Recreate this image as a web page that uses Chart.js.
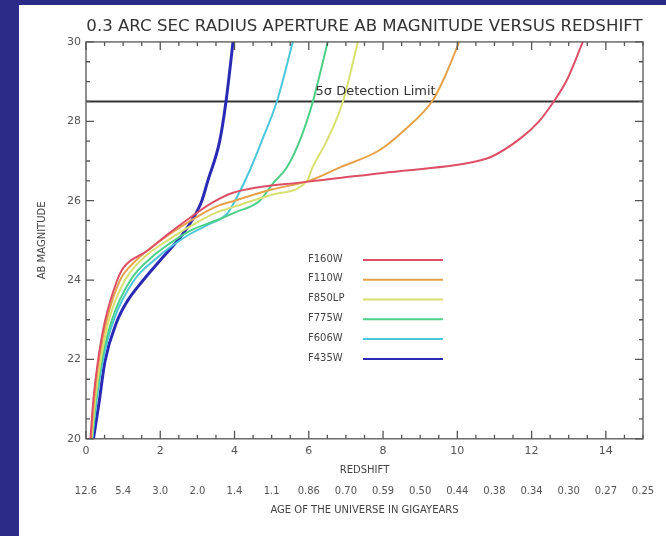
<!DOCTYPE html>
<html>
<head>
<meta charset="utf-8">
<script src="https://cdn.jsdelivr.net/npm/chart.js@4.4.1/dist/chart.umd.min.js"></script>
<style>
html, body { margin: 0; padding: 0; background: #2c2c88; }
#myChart { display: block; }
</style>
</head>
<body>
<canvas id="myChart" width="666" height="536"></canvas>
<script>
// --- Data (redshift z, AB magnitude) ---
const ageLabels = ['12.6', '5.4', '3.0', '2.0', '1.4', '1.1', '0.86', '0.70', '0.59', '0.50', '0.44', '0.38', '0.34', '0.30', '0.27', '0.25'];
const detectionLimit = 28.5;

const f160wZ   = [0.12, 0.2, 0.32, 0.51, 0.83, 1.0, 1.64, 2.2, 2.8, 3.4, 3.96, 6.0, 8.0, 10.4, 10.9, 11.7, 12.2, 12.62, 12.95, 13.38];
const f160wMag = [20, 21, 21.95, 22.96, 23.97, 24.3, 24.73, 25.15, 25.57, 25.95, 26.2, 26.48, 26.7, 26.97, 27.1, 27.57, 28.0, 28.53, 29.04, 30];

const f110wZ   = [0.13, 0.22, 0.35, 0.56, 0.92, 1.3, 1.8, 2.4, 3.0, 3.5, 4.0, 5.0, 6.0, 6.84, 7.9, 8.6, 9.34, 9.7, 10.05];
const f110wMag = [20, 21, 22, 23, 24, 24.45, 24.85, 25.25, 25.6, 25.85, 26.0, 26.28, 26.5, 26.84, 27.27, 27.8, 28.53, 29.2, 30];

const f850lpZ   = [0.15, 0.25, 0.4, 0.62, 1.05, 1.6, 2.2, 2.8, 3.5, 4.0, 5.0, 5.95, 6.1, 6.49, 6.92, 7.32];
const f850lpMag = [20, 21, 22, 23, 24, 24.6, 25.0, 25.35, 25.7, 25.85, 26.15, 26.5, 26.84, 27.52, 28.5, 30];

const f775wZ   = [0.16, 0.27, 0.43, 0.7, 1.2, 1.8, 2.3, 2.8, 3.5, 4.0, 4.68, 5.03, 5.41, 5.76, 6.11, 6.51];
const f775wMag = [20, 21, 22, 23, 24, 24.6, 24.95, 25.24, 25.5, 25.7, 26.0, 26.43, 26.84, 27.52, 28.5, 30];

const f606wZ   = [0.17, 0.29, 0.46, 0.75, 1.3, 1.9, 2.3, 2.8, 3.3, 3.8, 4.06, 4.41, 4.74, 5.14, 5.57];
const f606wMag = [20, 21, 22, 23, 24, 24.55, 24.85, 25.16, 25.4, 25.67, 26.08, 26.76, 27.52, 28.5, 30];

const f435wZ   = [0.2, 0.35, 0.51, 0.83, 1.1, 1.5, 2.0, 2.6, 2.85, 3.12, 3.28, 3.6, 3.77, 3.96];
const f435wMag = [20, 20.9, 21.95, 22.95, 23.45, 23.95, 24.5, 25.15, 25.5, 26.0, 26.5, 27.5, 28.5, 30];

function toPoints(zs, mags) {
  return zs.map((z, i) => ({ x: z, y: mags[i] }));
}

function serie(label, zs, mags, color, width) {
  return {
    label: label,
    data: toPoints(zs, mags),
    borderColor: color,
    borderWidth: width,
    pointRadius: 0,
    fill: false,
    cubicInterpolationMode: 'monotone'
  };
}

const FONT = 'DejaVu Sans';

// blue slide border behind the white panel
const fondPlugin = {
  id: 'fond',
  beforeDraw(chart) {
    const ctx = chart.ctx;
    ctx.save();
    ctx.fillStyle = '#2c2c88';
    ctx.fillRect(0, 0, chart.width, chart.height);
    ctx.fillStyle = '#ffffff';
    ctx.fillRect(19, 5, chart.width - 19, chart.height - 5);
    ctx.restore();
  }
};

// IDL style frame with inward ticks on the four sides
const cadrePlugin = {
  id: 'cadre',
  afterDatasetsDraw(chart) {
    const { ctx, chartArea: a, scales } = chart;
    ctx.save();
    ctx.strokeStyle = '#555';
    ctx.lineWidth = 1.3;
    ctx.strokeRect(a.left, a.top, a.right - a.left, a.bottom - a.top);
    ctx.beginPath();
    for (let v = 0; v <= 15; v += 0.5) {
      const px = scales.x.getPixelForValue(v);
      const len = (v % 2 === 0) ? 8 : 4;
      ctx.moveTo(px, a.bottom); ctx.lineTo(px, a.bottom - len);
      ctx.moveTo(px, a.top); ctx.lineTo(px, a.top + len);
    }
    for (let v = 20; v <= 30; v += 0.5) {
      const py = scales.y.getPixelForValue(v);
      const len = (v % 2 === 0) ? 8 : 4;
      ctx.moveTo(a.left, py); ctx.lineTo(a.left + len, py);
      ctx.moveTo(a.right, py); ctx.lineTo(a.right - len, py);
    }
    ctx.stroke();

    // label of the detection limit line
    ctx.fillStyle = '#333';
    ctx.font = '13px "' + FONT + '"';
    ctx.textAlign = 'center';
    ctx.textBaseline = 'bottom';
    ctx.fillText('5\u03c3 Detection Limit', scales.x.getPixelForValue(7.8), scales.y.getPixelForValue(detectionLimit) - 3);
    ctx.restore();
  }
};

// legend drawn inside the plot
const legendePlugin = {
  id: 'legende',
  afterDatasetsDraw(chart) {
    const { ctx, chartArea: a } = chart;
    ctx.save();
    ctx.font = '10px "' + FONT + '"';
    ctx.textBaseline = 'middle';
    ctx.textAlign = 'left';
    let row = 0;
    chart.data.datasets.forEach(ds => {
      if (!ds.legend) return;
      const y = a.top + 217 + row * 19.8;
      ctx.fillStyle = '#444';
      ctx.fillText(ds.label, a.left + 222, y);
      ctx.strokeStyle = ds.borderColor;
      ctx.lineWidth = 2;
      ctx.beginPath();
      ctx.moveTo(a.left + 277, y + 1);
      ctx.lineTo(a.left + 357, y + 1);
      ctx.stroke();
      row++;
    });
    ctx.restore();
  }
};

const datasets = [
  serie('F160W', f160wZ, f160wMag, '#dc4f66', 2),
  serie('F110W', f110wZ, f110wMag, '#e6a24a', 2),
  serie('F850LP', f850lpZ, f850lpMag, '#d8e070', 2),
  serie('F775W', f775wZ, f775wMag, '#4ccf86', 2),
  serie('F606W', f606wZ, f606wMag, '#4cc6da', 2),
  serie('F435W', f435wZ, f435wMag, '#2a2ab4', 3)
];
datasets.forEach(d => d.legend = true);
datasets.push({
  label: 'limit',
  data: [{ x: 0, y: detectionLimit }, { x: 15, y: detectionLimit }],
  borderColor: '#333',
  borderWidth: 2,
  pointRadius: 0,
  fill: false
});

const ctx = document.getElementById('myChart').getContext('2d');
const myChartInstance = new Chart(ctx, {
  type: 'line',
  data: { datasets: datasets },
  plugins: [fondPlugin, cadrePlugin, legendePlugin],
  options: {
    responsive: false,
    animation: false,
    layout: { padding: { left: 20, right: 23, top: 5, bottom: 18 } },
    plugins: {
      legend: { display: false },
      tooltip: { enabled: false },
      title: {
        display: true,
        fullSize: false,
        text: '0.3 ARC SEC RADIUS APERTURE AB MAGNITUDE VERSUS REDSHIFT',
        color: '#333',
        font: { family: FONT, size: 16.6, weight: 'normal' },
        padding: { top: 12, bottom: 5 }
      }
    },
    scales: {
      x: {
        type: 'linear', position: 'bottom', min: 0, max: 15,
        grid: { display: false, drawTicks: false },
        border: { display: false },
        ticks: { stepSize: 2, includeBounds: false, padding: 6, color: '#555', font: { family: FONT, size: 11 }, maxRotation: 0 },
        title: { display: true, text: 'REDSHIFT', color: '#444', font: { family: FONT, size: 10 }, padding: { top: 0, bottom: 2 } }
      },
      x2: {
        type: 'linear', position: 'bottom', min: 0, max: 15,
        grid: { display: false, drawTicks: false },
        border: { display: false },
        ticks: {
          stepSize: 1, autoSkip: false, maxRotation: 0, padding: 7, color: '#555',
          font: { family: FONT, size: 10 },
          callback: v => ageLabels[v]
        },
        title: { display: true, text: 'AGE OF THE UNIVERSE IN GIGAYEARS', color: '#444', font: { family: FONT, size: 10 }, padding: { top: 0, bottom: 2 } }
      },
      y: {
        type: 'linear', min: 20, max: 30,
        grid: { display: false, drawTicks: false },
        border: { display: false },
        ticks: { stepSize: 2, padding: 5, color: '#555', font: { family: FONT, size: 11 } },
        title: { display: true, text: 'AB MAGNITUDE', color: '#444', font: { family: FONT, size: 10 }, padding: { top: 16, bottom: 0 } },
        afterFit: s => { s.width = 66; }
      }
    }
  }
});
</script>
</body>
</html>
